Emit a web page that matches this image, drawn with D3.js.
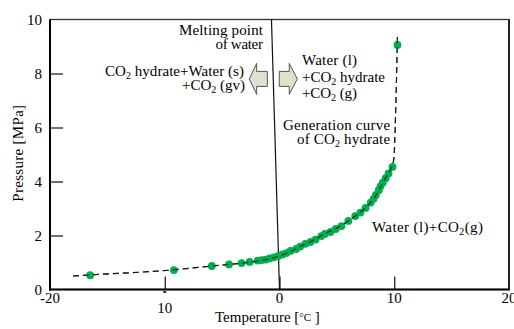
<!DOCTYPE html>
<html><head><meta charset="utf-8">
<script src="https://cdn.jsdelivr.net/npm/d3@7"></script>
<style>
html,body{margin:0;padding:0;background:#fff;}
svg{display:block;font-family:"Liberation Serif","Times New Roman",serif;}
</style></head>
<body><svg id="c" width="514" height="329"></svg>
<script>
// ---- data ----
const temps = [-16.5,-9.2,-5.9,-4.4,-3.3,-2.6,-1.9,-1.55,-1.2,-0.85,-0.5,-0.1,0.25,0.6,0.95,1.45,1.8,2.25,2.7,3.15,3.65,3.95,4.45,4.9,5.4,6.0,6.6,7.05,7.5,7.95,8.2,8.4,8.65,8.8,9.0,9.25,9.5,9.85,10.28];
const pressures = [0.53,0.72,0.87,0.93,0.98,1.02,1.07,1.09,1.11,1.15,1.19,1.24,1.30,1.35,1.43,1.50,1.59,1.69,1.76,1.85,1.98,2.06,2.13,2.24,2.35,2.54,2.72,2.85,3.02,3.22,3.36,3.50,3.68,3.82,3.96,4.12,4.30,4.54,9.06];
const curveT = [-18,-16.5,-9.2,-5.9,-3,-1,0,1,2,3,4,5,6,7,8,8.5,9.0,9.4,9.8,9.98,10.08,10.18,10.28];
const curveP = [0.50,0.54,0.73,0.87,0.99,1.12,1.24,1.42,1.63,1.83,2.08,2.28,2.54,2.85,3.25,3.55,3.95,4.25,4.56,4.9,6.0,7.5,9.43];
const meltT = [0.0,-0.7];
const meltP = [0,10];
const xTicks = [-20,-10,0,10,20];
const xTickLabels = ["-20","10","0","10","20"];
const yTicks = [0,2,4,6,8,10];
const yTickLabels = ["0","2","4","6","8","10"];
// annotation texts: segments [text, isSub]
const labelTexts = [
  [["Melting point",0]],
  [["of water",0]],
  [["CO",0],["2",1],[" hydrate+Water (s)",0]],
  [["+CO",0],["2",1],[" (gv)",0]],
  [["Water (l)",0]],
  [["+CO",0],["2",1],[" hydrate",0]],
  [["+CO",0],["2",1],[" (g)",0]],
  [["Generation curve",0]],
  [["of CO",0],["2",1],[" hydrate",0]],
  [["Water (l)+CO",0],["2",1],["(g)",0]]
];
const labelT = [-8.76,-5.10,-15.21,-8.50,1.96,1.96,1.96,0.31,1.53,8.06];
const labelP = [9.43,8.89,7.91,7.39,8.31,7.69,7.09,5.91,5.39,2.13];
const labelW = [84,42,139,63,55,83,55,107,93,111];
const labelRight = [1,1,0,1,0,0,0,0,1,0];
// arrows: [tail, headBase, tip] in °C, centre pressure
const arrowTail = [-1.06,-0.02];
const arrowHead = [-1.99,0.85];
const arrowTip = [-2.63,1.55];
const arrowP = [7.80,7.80];

// ---- layout ----
const svg = d3.select("#c");
const L=50,R=509,T=19.5,B=289.5;
const x = d3.scaleLinear().domain([-20,20]).range([L,R]);
const y = d3.scaleLinear().domain([0,10]).range([B,T]);
const FONT=15;

// frame
svg.append("rect").attr("x",L).attr("y",T).attr("width",R-L).attr("height",B-T)
  .attr("fill","none").attr("stroke","#333").attr("stroke-width",1.3);
svg.append("line").attr("x1",L).attr("x2",L).attr("y1",T).attr("y2",B+1).attr("stroke","#000").attr("stroke-width",2);
svg.append("line").attr("x1",L-1).attr("x2",R+1).attr("y1",B).attr("y2",B).attr("stroke","#000").attr("stroke-width",2);
svg.append("line").attr("x1",R).attr("x2",R).attr("y1",T).attr("y2",B).attr("stroke","#222").attr("stroke-width",2);

// y axis ticks (inward)
const yAxis = d3.axisRight(y).tickValues(yTicks.slice(1,-1)).tickSize(13).tickFormat("");
const gy = svg.append("g").attr("transform",`translate(${L},0)`).call(yAxis);
gy.select(".domain").remove();
gy.selectAll(".tick line").attr("stroke","#111").attr("stroke-width",1.2);
svg.selectAll(".ylab").data(yTicks).enter().append("text")
  .attr("x",42).attr("y",d=>y(d)).attr("dy","0.35em").attr("text-anchor","end")
  .attr("font-size",FONT).text((d,i)=>yTickLabels[i]);

// x axis ticks (inward)
const xAxis = d3.axisTop(x).tickValues(xTicks.slice(1,-1)).tickSize(13).tickFormat("");
const gx = svg.append("g").attr("transform",`translate(0,${B})`).call(xAxis);
gx.select(".domain").remove();
gx.selectAll(".tick line").attr("stroke","#111").attr("stroke-width",1.2);
svg.selectAll(".xlab").data(xTicks).enter().append("text")
  .attr("x",d=>x(d)).attr("y",(d,i)=> i===1 ? 313 : 303).attr("text-anchor","middle")
  .attr("font-size",FONT).text((d,i)=>xTickLabels[i]);
// stray minus remnant of "-10"
svg.append("rect").attr("x",x(-10)-1.5).attr("y",B+1.5).attr("width",3).attr("height",2).attr("fill","#333");

// axis titles
svg.append("text").attr("transform",`translate(23,${y(5.05)}) rotate(-90)`)
  .attr("text-anchor","middle").attr("font-size",FONT).attr("letter-spacing",0.3).text("Pressure [MPa]");
const tt = svg.append("text").attr("x",215).attr("y",322).attr("font-size",FONT);
tt.append("tspan").text("Temperature [");
tt.append("tspan").attr("font-size",11).attr("dy",-1).text("°C");
tt.append("tspan").attr("dy",1).text("    ]");

// melting line
const lineGen = d3.line().x(d=>x(d[0])).y(d=>y(d[1]));
svg.append("path").datum(meltT.map((t,i)=>[t,meltP[i]]))
  .attr("d",lineGen).attr("fill","none").attr("stroke","#111").attr("stroke-width",1.2);

// generation curve (dashed)
const curveGen = d3.line().x(d=>x(d[0])).y(d=>y(d[1])).curve(d3.curveMonotoneX);
svg.append("path").datum(curveT.map((t,i)=>[t,curveP[i]]))
  .attr("d",curveGen).attr("fill","none").attr("stroke","#333").attr("stroke-width",1.2)
  .attr("stroke-dasharray","6,4");

// points
svg.selectAll(".pt").data(temps.map((t,i)=>[t,pressures[i]])).enter().append("circle")
  .attr("cx",d=>x(d[0])).attr("cy",d=>y(d[1])).attr("r",3.9).attr("fill","#00b050");
// redraw dashes over points
svg.append("path").datum(curveT.map((t,i)=>[t,curveP[i]]))
  .attr("d",curveGen).attr("fill","none").attr("stroke","#111").attr("stroke-width",1.1)
  .attr("stroke-dasharray","6,4").attr("opacity",0.85);

// arrows
arrowTip.forEach((tip,i)=>{
  const cy=y(arrowP[i]), bh=7.5, hh=15.5;
  const xt=x(arrowTail[i]), xb=x(arrowHead[i]), xp=x(tip);
  const pts=[[xt,cy-bh],[xb,cy-bh],[xb,cy-hh],[xp,cy],[xb,cy+hh],[xb,cy+bh],[xt,cy+bh]];
  svg.append("polygon").attr("points",pts.map(p=>p.join(",")).join(" "))
    .attr("fill","#dde2cc").attr("stroke","#555").attr("stroke-width",1);
});

// annotation labels
labelTexts.forEach((segs,i)=>{
  const left = x(labelT[i]);
  const t = svg.append("text").attr("x",left).attr("y",y(labelP[i])).attr("font-size",FONT);
  let sub=false;
  segs.forEach(s=>{
    const ts=t.append("tspan").text(s[0]);
    if(s[1]){ts.attr("font-size",10).attr("dy",3);sub=true;}
    else if(sub){ts.attr("dy",-3);sub=false;}
  });
  const n = segs.reduce((a,s)=>a+s[0].length,0);
  const w = t.node().getComputedTextLength();
  let ls = (labelW[i]-w)/(n-1);
  ls = Math.max(-0.3, Math.min(3, ls));
  t.attr("letter-spacing",ls.toFixed(2));
  const wf = w + ls*(n-1);
  if(labelRight[i]) t.attr("x", left + labelW[i] - wf);
});
</script></body></html>
